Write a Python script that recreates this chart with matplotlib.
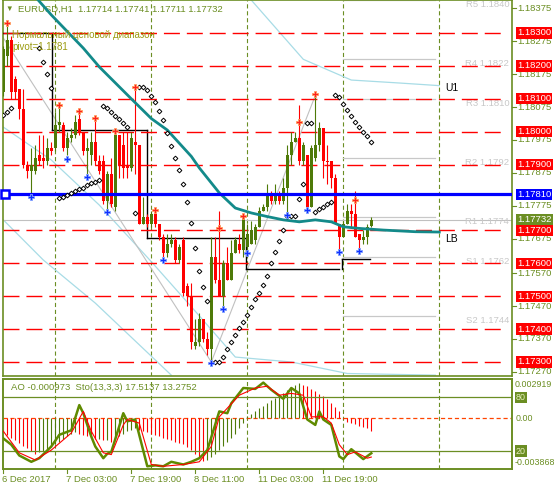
import matplotlib.pyplot as plt
from matplotlib.transforms import blended_transform_factory as blend

plt.rcParams['font.family'] = ['Liberation Sans', 'DejaVu Sans']
plt.rcParams['lines.scale_dashes'] = False

# ---- price bars (EURUSD H1, 6 Dec 11:00 .. 12 Dec 07:00) ----
opens = [1.1812, 1.1823, 1.1828, 1.1816, 1.1813, 1.1807, 1.1790, 1.1788, 1.1788, 1.1793,
         1.1792, 1.1791, 1.1795, 1.1795, 1.1802, 1.1802, 1.1795, 1.1798, 1.1799, 1.1804,
         1.1800, 1.1794, 1.1793, 1.1797, 1.1791, 1.1791, 1.1779, 1.1787, 1.1777, 1.1799,
         1.1796, 1.1790, 1.1789, 1.1797, 1.1796, 1.1772, 1.1774, 1.1772, 1.1775, 1.1772,
         1.1768, 1.1763, 1.1766, 1.1767, 1.1761, 1.1767, 1.1753, 1.1750, 1.1735, 1.1736,
         1.1743, 1.1737, 1.1734, 1.1762, 1.1755, 1.1750, 1.1760, 1.1755, 1.1763, 1.1766,
         1.1764, 1.1765, 1.1766, 1.1767, 1.1771, 1.1776, 1.1777, 1.1781, 1.1779, 1.1781,
         1.1779, 1.1783, 1.1793, 1.1797, 1.1798, 1.1791, 1.1793, 1.1777, 1.1792, 1.1796,
         1.1801, 1.17912, 1.1791, 1.1786, 1.1772, 1.1768, 1.1772, 1.1776, 1.1775, 1.1769,
         1.1767, 1.1768, 1.17714]
highs = [1.1826, 1.1832, 1.1829, 1.1817, 1.1813, 1.1813, 1.1791, 1.1795, 1.1796, 1.1799,
         1.1799, 1.1798, 1.1797, 1.1806, 1.1808, 1.1803, 1.1800, 1.1801, 1.1805, 1.1806,
         1.1800, 1.1798, 1.1800, 1.1804, 1.1793, 1.1793, 1.1788, 1.1792, 1.1800, 1.1799,
         1.1800, 1.1800, 1.1800, 1.1813, 1.1796, 1.1780, 1.1775, 1.1776, 1.1776, 1.1772,
         1.1769, 1.1769, 1.1769, 1.1768, 1.1766, 1.1768, 1.1754, 1.1754, 1.1743, 1.1745,
         1.1743, 1.1739, 1.1768, 1.1768, 1.1776, 1.1761, 1.1765, 1.1767, 1.1768, 1.1769,
         1.1774, 1.1772, 1.1773, 1.1772, 1.1777, 1.1778, 1.1784, 1.1782, 1.1784, 1.1782,
         1.1786, 1.1796, 1.1800, 1.1800, 1.1808, 1.1797, 1.1793, 1.1796, 1.1811, 1.1803,
         1.1801, 1.1796, 1.1791, 1.1787, 1.1772, 1.1773, 1.1778, 1.1778, 1.1782, 1.1769,
         1.1770, 1.1772, 1.17741]
lows = [1.1811, 1.1820, 1.1810, 1.1810, 1.1804, 1.1789, 1.1786, 1.1781, 1.1787, 1.1790,
        1.1789, 1.1790, 1.1793, 1.1794, 1.1800, 1.1794, 1.1793, 1.1797, 1.1798, 1.1799,
        1.1793, 1.1787, 1.1790, 1.1790, 1.1787, 1.1778, 1.1776, 1.1777, 1.1776, 1.1786,
        1.1786, 1.1786, 1.1788, 1.1787, 1.1772, 1.1772, 1.1771, 1.1771, 1.1771, 1.1767,
        1.1762, 1.1762, 1.1765, 1.1760, 1.1760, 1.1750, 1.1747, 1.1734, 1.1734, 1.1735,
        1.1736, 1.1732, 1.1730, 1.1754, 1.1750, 1.1747, 1.1755, 1.1755, 1.1763, 1.1763,
        1.1762, 1.1763, 1.1766, 1.1766, 1.1771, 1.1776, 1.1776, 1.1778, 1.1778, 1.1778,
        1.1778, 1.1775, 1.1790, 1.1797, 1.1790, 1.1790, 1.1776, 1.1777, 1.1791, 1.1794,
        1.1786, 1.1784, 1.1783, 1.1772, 1.1764, 1.1768, 1.1772, 1.1771, 1.1768, 1.1764,
        1.1766, 1.1766, 1.17711]
closes = [1.1825, 1.1828, 1.1812, 1.1812, 1.1807, 1.1790, 1.1788, 1.1790, 1.1792, 1.1791,
          1.1791, 1.1795, 1.1794, 1.1802, 1.1803, 1.1795, 1.1798, 1.1799, 1.1803, 1.1800,
          1.1794, 1.1795, 1.1797, 1.1791, 1.1788, 1.1779, 1.1787, 1.1778, 1.1799, 1.1790,
          1.1789, 1.1789, 1.1798, 1.1796, 1.1772, 1.1774, 1.1772, 1.1775, 1.1772, 1.1768,
          1.1763, 1.1766, 1.1767, 1.1761, 1.1765, 1.1751, 1.1750, 1.1736, 1.1736, 1.1743,
          1.1737, 1.1734, 1.1762, 1.1755, 1.1750, 1.1760, 1.1755, 1.1763, 1.1767, 1.1764,
          1.1774, 1.1769, 1.1770, 1.1771, 1.1776, 1.1777, 1.1781, 1.1779, 1.1781, 1.1779,
          1.1783, 1.1793, 1.1797, 1.1798, 1.1791, 1.1796, 1.1777, 1.1795, 1.1796, 1.1801,
          1.1791, 1.17908, 1.1786, 1.1772, 1.1768, 1.1772, 1.1776, 1.1775, 1.1768, 1.1767,
          1.1768, 1.1771, 1.17732]

# moving average (teal) and channel lines, (bar, price)
ma_bars = [8, 12, 20, 24, 32, 37, 41, 47, 49, 54, 58, 62, 66, 70, 74, 78, 82, 85, 89, 95, 103, 109]
ma_vals = [1.18410, 1.18355, 1.18254, 1.18197, 1.18100, 1.18040, 1.18005, 1.17925, 1.17890, 1.17814,
           1.17768, 1.17753, 1.17742, 1.17732, 1.17726, 1.17732, 1.17726, 1.17711, 1.17706, 1.17701,
           1.17696, 1.17695]
ch1_bars = [0, 12, 24, 37, 47, 58, 72, 86, 108]
ch1_vals = [1.18014, 1.17914, 1.17777, 1.17605, 1.17468, 1.17315, 1.17300, 1.17265, 1.17260]
ch2_bars = [0, 10, 23, 42]
ch2_vals = [1.17732, 1.17610, 1.17479, 1.17260]
u1_bars = [62, 75, 87, 99, 109]
u1_vals = [1.18400, 1.18220, 1.18157, 1.18148, 1.18140]
zz_bars = [0, 52, 78]
zz_vals = [1.18285, 1.17300, 1.18110]

# daily step line (black)
step_from = [-1, 12.3, 36.0, 60.6, 84.6]
step_to = [12.3, 36.0, 60.6, 84.0, 91.8]
step_lvl = [1.18300, 1.18005, 1.17677, 1.17583, 1.17613]

# parabolic SAR
sar_bars = [0, 1, 2, 9, 10, 11, 12, 14, 15, 16, 17, 18, 19, 20, 21, 22, 23, 24,
            25, 26, 27, 28, 29, 30, 31, 33, 34, 35, 36, 37, 38, 39, 40, 41, 42, 43, 44, 45,
            46, 47, 48, 49, 50, 51, 53, 54, 55, 56, 57, 58, 59, 60, 61, 62, 63, 64, 65, 66,
            67, 68, 69, 70, 71, 72, 73, 74, 75, 76, 77, 78, 79, 80, 81, 82, 83, 84, 85, 86,
            87, 88, 89, 90, 91, 92]
sar_vals = [1.18051, 1.18060, 1.18072, 1.18254, 1.18212, 1.18175, 1.18133, 1.17798, 1.17802,
            1.17809, 1.17815, 1.17820, 1.17825, 1.17830, 1.17838, 1.17844, 1.17848, 1.17852,
            1.18078, 1.18072, 1.18060, 1.18048, 1.18039, 1.18026, 1.18014, 1.17753, 1.18136,
            1.18136, 1.18127, 1.18109, 1.18091, 1.18064, 1.18036, 1.17996, 1.17957, 1.17920,
            1.17884, 1.17841, 1.17787, 1.17722, 1.17646, 1.17578, 1.17529, 1.17486, 1.17300,
            1.17300, 1.17316, 1.17339, 1.17361, 1.17382, 1.17402, 1.17422, 1.17443, 1.17467,
            1.17491, 1.17510, 1.17535, 1.17562, 1.17601, 1.17634, 1.17668, 1.17700, 1.17744,
            1.17744, 1.17744, 1.17795, 1.17841, 1.18026, 1.18026, 1.17757, 1.17764, 1.17772,
            1.17779, 1.17786, 1.18112, 1.18105, 1.18083, 1.18066, 1.18049, 1.18030, 1.18015,
            1.18000, 1.17987, 1.17970]

# fractals
fup_bars = [1, 14, 19, 23, 28, 33, 38, 54, 60, 74, 78, 88]
fup_vals = [1.18330, 1.18081, 1.18063, 1.18042, 1.18002, 1.18137, 1.17762, 1.17707, 1.17744,
            1.18030, 1.18115, 1.17792]
fdn_bars = [7, 16, 21, 26, 40, 52, 55, 61, 71, 76, 84, 89]
fdn_vals = [1.17801, 1.17918, 1.17861, 1.17755, 1.17610, 1.17296, 1.17460, 1.17632, 1.17747,
            1.17762, 1.17635, 1.17638]

# levels
round_levels = [1.183, 1.182, 1.181, 1.180, 1.179, 1.177, 1.176, 1.175, 1.174, 1.173]
pivot_level = 1.1781
bid = 1.17732
pivot_names = ['R5 1.1840', 'R4 1.1822', 'R3 1.1810', 'R2 1.1792', 'R1 1.1774', 'S1 1.1762', 'S2 1.1744']
pivot_vals = [1.1840, 1.1822, 1.1810, 1.1792, 1.1774, 1.1762, 1.1744]
price_ticks = [1.18375, 1.18275, 1.18175, 1.18075, 1.17975, 1.17875, 1.17775, 1.17675,
               1.17570, 1.17470, 1.17370, 1.17270]
day_starts = [13, 37, 61, 85, 109]
time_bars = [0, 16, 32, 48, 64, 80]
time_labels = ['6 Dec 2017', '7 Dec 03:00', '7 Dec 19:00', '8 Dec 11:00', '11 Dec 03:00', '11 Dec 19:00']

# indicators
ao = [-0.0011, -0.0013, -0.0015, -0.0017, -0.0019, -0.0021, -0.0023, -0.0025, -0.0027,
      -0.0026, -0.0025, -0.0024, -0.0022, -0.0020, -0.0018, -0.0016, -0.0014, -0.0012, -0.0011,
      -0.0012, -0.0013, -0.0014, -0.0015, -0.0016, -0.0016, -0.0017, -0.0017, -0.0018,
      -0.0016, -0.0014, -0.0012, -0.0010, -0.0009, -0.0008,
      -0.0009, -0.0010, -0.0011, -0.0012, -0.0013, -0.0014, -0.0015, -0.0016, -0.0017, -0.0018,
      -0.0019, -0.0020, -0.0022, -0.0024, -0.0027, -0.0030, -0.0033,
      -0.0032, -0.0030, -0.0027, -0.0024, -0.0021, -0.0018, -0.0015, -0.0012, -0.0008, -0.0004,
      0.0001, 0.0003, 0.0005, 0.0007, 0.0009, 0.0011, 0.0013, 0.0015, 0.0017, 0.0019, 0.0021,
      0.0023, 0.0025, 0.0026,
      0.0025, 0.0024, 0.0022, 0.0020, 0.0018, 0.0016, 0.0014, 0.0011, 0.0008, 0.0005,
      -0.0001, -0.0003, -0.0004, -0.0005, -0.0006, -0.0007, -0.0008, -0.000973]
sto_bars = [0, 2, 4, 7, 9, 12, 14, 17, 19, 20, 22, 23, 25, 26, 27, 30, 31, 33, 36, 38, 40, 42,
            45, 47, 49, 51, 54, 56, 57, 60, 63, 65, 67, 70, 72, 74, 76, 78, 79, 80, 82, 84, 85,
            87, 90, 92]
sto_main = [34, 27, 15, 8, 12, 25, 38, 43, 71, 62, 36, 25, 12, 17, 19, 62, 53, 55, 3, 4, 3, 8,
            5, 8, 12, 21, 64, 62, 73, 90, 89, 96, 88, 78, 90, 84, 55, 49, 64, 55, 49, 14, 11,
            22, 11, 17.5137]
sig_bars = [0, 4, 8, 12, 17, 20, 22, 25, 27, 30, 31, 34, 37, 40, 45, 49, 52, 54, 59, 63, 66,
            69, 72, 75, 77, 80, 82, 84, 86, 88, 91, 92]
sig_vals = [42, 18, 10, 21, 40, 64, 42, 18, 16, 49, 55, 51, 5, 3, 5, 8, 25, 58, 82, 90, 92, 82,
            84, 82, 58, 58, 51, 27, 16, 19, 12, 13.2752]

OLIVE = '#6b8e23'
BULL = '#4e7a08'
W, H = 554, 490
FS = 6.8


def rect(l, t, r, b):
    return [l / W, 1 - b / H, (r - l) / W, (b - t) / H]


fig = plt.figure(figsize=(W / 100, H / 100), dpi=100)
ax = fig.add_axes(rect(3, 0, 512, 376))
ax2 = fig.add_axes(rect(3, 379, 512, 469))
ax2s = ax2.twinx()

xlim = (-0.075, 127.175)
for a in (ax, ax2, ax2s):
    a.set_xlim(*xlim)
    a.set_xticks([])
    a.set_yticks([])
    for s in a.spines.values():
        s.set_color(OLIVE)
        s.set_linewidth(1.2)
ax.set_ylim(1.172574, 1.184003)
ax2.set_ylim(-0.003868, 0.002919)
ax2s.set_ylim(0, 100)

# ---- main panel ----
for lv in round_levels:
    ax.plot([-0.075, 125.5], [lv, lv], color='red', lw=1.0, dashes=(11.5, 5), zorder=4)
for d in day_starts:
    for a in (ax, ax2):
        a.axvline(d, color=OLIVE, lw=0.8, dashes=(3, 2), zorder=1)

ax.plot(ch1_bars, ch1_vals, color='#a8dce6', lw=0.9, zorder=2)
ax.plot(ch2_bars, ch2_vals, color='#a8dce6', lw=0.9, zorder=2)
ax.plot(u1_bars, u1_vals, color='#a8dce6', lw=0.9, zorder=2)
ax.plot(zz_bars, zz_vals, color='#c0c0c0', lw=0.8, zorder=2)
ax.axhline(bid, color='#c0c0c0', lw=0.8, zorder=2)

for a, b, lv in zip(step_from, step_to, step_lvl):
    ax.plot([a, b], [lv, lv], color='black', lw=1.0, zorder=3)
for k in range(1, len(step_lvl)):
    ax.plot([step_from[k], step_from[k]], [step_lvl[k - 1], step_lvl[k]], color='black', lw=1.0, zorder=3)

for pv in pivot_vals:
    ax.plot([85, 108], [pv, pv], color='#c8c8c8', lw=0.9, zorder=2)
for nm, pv in zip(pivot_names, pivot_vals):
    ax.text(126.5, pv, nm, color='#c8c8c8', fontsize=FS, ha='right', va='top', zorder=2)

# candles
for i in range(len(opens)):
    o, h, l, c = opens[i], highs[i], lows[i], closes[i]
    col = BULL if c >= o else '#ff0000'
    ax.vlines(i, l, h, color=col, lw=0.8, zorder=5)
    ax.bar(i, max(abs(c - o), 0.000012), bottom=min(o, c), width=0.7, color=col,
           linewidth=0, zorder=5)

ax.plot(ma_bars, ma_vals, color='#138a8a', lw=2.0, zorder=6)
ax.axhline(pivot_level, color='#0000ff', lw=2.3, zorder=6)
ax.plot([0.3], [pivot_level], marker='s', ms=6, mfc='white', mec='#0000ff', mew=1.8,
        zorder=7, clip_on=False)

ax.plot(sar_bars, sar_vals, ls='none', marker='D', ms=2.4, mfc='white', mec='black',
        mew=0.7, zorder=7)
ax.plot(fup_bars, fup_vals, ls='none', marker='P', ms=5, mfc='#ff2020', mec='#ffa060',
        mew=0.6, zorder=8)
ax.plot(fdn_bars, fdn_vals, ls='none', marker='P', ms=5, mfc='#1030ff', mec='#80a0ff',
        mew=0.6, zorder=8)

ax.text(110.5, 1.18132, 'U1', fontsize=7.5, color='black', va='center')
ax.text(110.5, 1.17675, 'LB', fontsize=7.5, color='black', va='center')

ax.text(0.005, 1 - 9 / 376, '\u25bc', transform=ax.transAxes, fontsize=5.5, color=OLIVE,
        va='center', ha='left')
ax.text(15 / 509, 1 - 9 / 376, 'EURUSD,H1  1.17714 1.17741 1.17711 1.17732',
        transform=ax.transAxes, fontsize=FS, color=OLIVE, va='center')
ax.text(9 / 509, 1 - 35 / 376, 'Нормальный ценовой диапазон', transform=ax.transAxes,
        fontsize=7, color='#9b9b10', va='center', zorder=9)
ax.text(9 / 509, 1 - 47 / 376, 'pivot=1.1781', transform=ax.transAxes, fontsize=7,
        color='#9b9b10', va='center', zorder=9)

# right price scale
tr = blend(ax.transAxes, ax.transData)
for p in price_ticks:
    ax.plot([1.0, 1.0 + 4 / 509], [p, p], color=OLIVE, lw=0.8, transform=tr, clip_on=False)
    ax.text(1.0 + 5 / 509, p, f'{p:.5f}', transform=tr, fontsize=FS, color=OLIVE,
            va='center', ha='left')
box_levels = round_levels + [pivot_level, bid]
box_colors = ['#ff0000'] * len(round_levels) + ['#0000ff', OLIVE]
for p, bc in zip(box_levels, box_colors):
    ax.text(1.0 + 5 / 509, p, f'{p:.5f}', transform=tr, fontsize=FS, color='white',
            va='center', ha='left', bbox=dict(boxstyle='square,pad=0.12', fc=bc, ec='none'))

# ---- indicator panel ----
ax2.axhline(0, color='#ff4500', lw=0.9, dashes=(3, 2), zorder=1)
ao_cols = ['#ff0000' if k == 0 or ao[k] < ao[k - 1] else BULL for k in range(len(ao))]
ax2.vlines(range(len(ao)), 0, ao, colors=ao_cols, lw=0.8, zorder=2)
for lv in (20, 80):
    ax2s.axhline(lv, color=OLIVE, lw=0.9, zorder=1)
ax2s.plot(sto_bars, sto_main, color='#5f8a00', lw=1.8, zorder=3)
ax2s.plot(sig_bars, sig_vals, color='#ff0000', lw=0.8, zorder=4)

ax2.text(8 / 509, 1 - 8 / 90, 'AO -0.000973  Sto(13,3,3) 17.5137 13.2752',
         transform=ax2.transAxes, fontsize=FS, color=OLIVE, va='center')
t2 = ax2.transAxes
FS2 = 6.4
ax2.text(1.0 + 3 / 509, 1 - 5 / 90, '0.002919', transform=t2, fontsize=FS2, color=OLIVE, va='center')
ax2.text(1.0 + 4 / 509, 1 - 18.3 / 90, '80', transform=t2, fontsize=FS2,
         color='#e8f0c0', va='center', bbox=dict(boxstyle='square,pad=0.12', fc=OLIVE, ec='none'))
ax2.text(1.0 + 4 / 509, 1 - 39.5 / 90, '0.00', transform=t2, fontsize=FS2, color=OLIVE, va='center')
ax2.text(1.0 + 4 / 509, 18 / 90, '20', transform=t2, fontsize=FS2, color='#e8f0c0',
         va='center', bbox=dict(boxstyle='square,pad=0.12', fc=OLIVE, ec='none'))
ax2.text(1.0 + 3 / 509, 7 / 90, '-0.003868', transform=t2, fontsize=FS2, color=OLIVE, va='center')

tb = blend(ax2.transData, ax2.transAxes)
for b, lab in zip(time_bars, time_labels):
    ax2.plot([b, b], [0, -4 / 90], color=OLIVE, lw=0.8, transform=tb, clip_on=False)
    ax2.text(b - 0.2, -10 / 90, lab, transform=tb, fontsize=FS, color=OLIVE, va='center',
             ha='left')

fig.savefig('out.png', dpi=100)
